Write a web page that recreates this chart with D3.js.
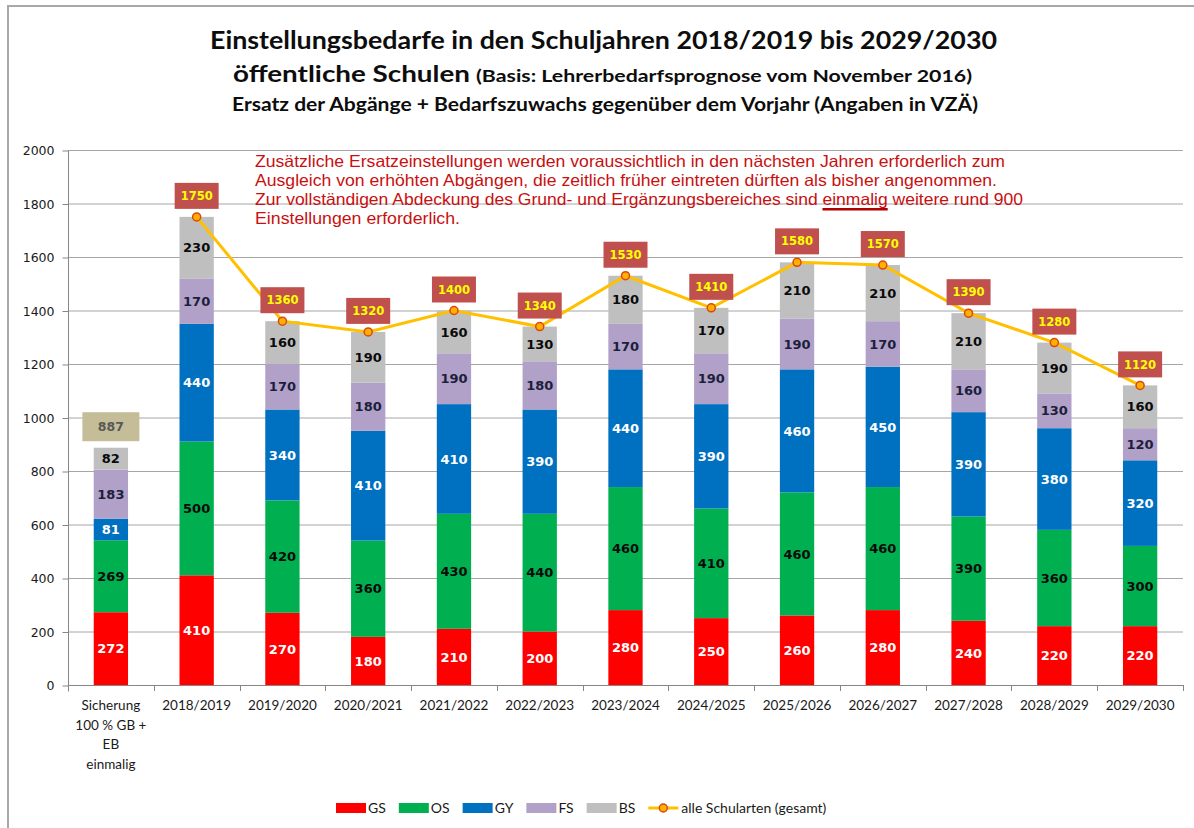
<!DOCTYPE html>
<html><head><meta charset="utf-8">
<script src="https://cdn.jsdelivr.net/npm/d3@7"></script>
<style>body{margin:0;background:#fff} svg{display:block}</style>
</head><body>
<svg id="c" width="1194" height="828"></svg>
<script>
const categories = ["Sicherung\n100 % GB +\nEB\neinmalig","2018/2019","2019/2020","2020/2021","2021/2022","2022/2023","2023/2024","2024/2025","2025/2026","2026/2027","2027/2028","2028/2029","2029/2030"];
const seriesNames = ["GS","OS","GY","FS","BS"];
const GS = [272,410,270,180,210,200,280,250,260,280,240,220,220];
const OS = [269,500,420,360,430,440,460,410,460,460,390,360,300];
const GY = [81,440,340,410,410,390,440,390,460,450,390,380,320];
const FS = [183,170,170,180,190,180,170,190,190,170,160,130,120];
const BS = [82,230,160,190,160,130,180,170,210,210,210,190,160];
const totals = [887,1750,1360,1320,1400,1340,1530,1410,1580,1570,1390,1280,1120];
const lineName = "alle Schularten (gesamt)";
const yTicks = [0,200,400,600,800,1000,1200,1400,1600,1800,2000];
const titleLine1 = "Einstellungsbedarfe in den Schuljahren 2018/2019 bis 2029/2030";
const titleLine2a = "öffentliche Schulen";
const titleLine2b = "(Basis: Lehrerbedarfsprognose vom November 2016)";
const titleLine3 = "Ersatz der Abgänge + Bedarfszuwachs gegenüber dem Vorjahr (Angaben in VZÄ)";
const noteLines = [
  "Zusätzliche Ersatzeinstellungen werden voraussichtlich in den nächsten Jahren erforderlich zum",
  "Ausgleich von erhöhten Abgängen, die zeitlich früher eintreten dürften als bisher angenommen.",
  "Zur vollständigen Abdeckung des Grund- und Ergänzungsbereiches sind einmalig weitere rund 900",
  "Einstellungen erforderlich."
];
const noteWidths = [750, 742, 768, 205];
const noteUnderlined = "einmalig";

const seriesData = {GS, OS, GY, FS, BS};
const colors = {GS:"#FF0000", OS:"#00B050", GY:"#0070C0", FS:"#B1A0C7", BS:"#BFBFBF"};
const labelColors = {GS:"#FFFFFF", OS:"#0a0a0a", GY:"#FFFFFF", FS:"#1c1f3c", BS:"#0a0a0a"};

const svg = d3.select("#c");

// outer frame
svg.append("path").attr("d","M8,830 V6 H1196").attr("fill","none")
  .attr("stroke","#a8a8a8").attr("stroke-width",2);

// Titles
const tf = "Lato, 'Open Sans', sans-serif";
svg.append("text").attr("x",210).attr("y",49).attr("font-family",tf).attr("font-weight","bold")
  .attr("font-size",25).attr("fill","#0d0d0d").attr("textLength",787).attr("lengthAdjust","spacingAndGlyphs").text(titleLine1);
svg.append("text").attr("x",233).attr("y",82).attr("font-family",tf).attr("font-weight","bold")
  .attr("font-size",23).attr("fill","#0d0d0d").attr("textLength",237).attr("lengthAdjust","spacingAndGlyphs").text(titleLine2a);
svg.append("text").attr("x",476).attr("y",82).attr("font-family",tf).attr("font-weight","bold")
  .attr("font-size",17).attr("fill","#0d0d0d").attr("textLength",496).attr("lengthAdjust","spacingAndGlyphs").text(titleLine2b);
svg.append("text").attr("x",232).attr("y",111).attr("font-family",tf).attr("font-weight","bold")
  .attr("font-size",18).attr("fill","#0d0d0d").attr("textLength",746).attr("lengthAdjust","spacingAndGlyphs").text(titleLine3);

// Scales
const x = d3.scaleBand().domain(categories).range([68,1183]).paddingInner(0.6).paddingOuter(0.3);
const y = d3.scaleLinear().domain([0,2000]).range([685,150]);
const step = x.step();

// gridlines
svg.append("g").selectAll("line").data(yTicks.filter(d=>d>0)).join("line")
  .attr("x1",68).attr("x2",1183).attr("y1",d=>y(d)+0.5).attr("y2",d=>y(d)+0.5)
  .attr("stroke","#a6a6a6").attr("stroke-width",1);

// y axis
const yAxis = svg.append("g").attr("transform","translate(68.5,0.5)")
  .call(d3.axisLeft(y).tickValues(yTicks).tickSize(6).tickPadding(8).tickFormat(d3.format("d")));
yAxis.select(".domain").attr("stroke","#868686").attr("d","M0,"+(y(2000))+"V"+(y(0)+6));
yAxis.selectAll(".tick line").attr("stroke","#868686");
yAxis.selectAll(".tick text").attr("font-family","'DejaVu Sans', Verdana, sans-serif")
  .attr("font-size",12.5).attr("fill","#1a1a1a");

// x axis line + boundary ticks
svg.append("line").attr("x1",68).attr("x2",1183).attr("y1",y(0)+0.5).attr("y2",y(0)+0.5)
  .attr("stroke","#868686");
svg.append("g").selectAll("line").data(d3.range(categories.length+1)).join("line")
  .attr("x1",i=>Math.round(68+i*step)+0.5).attr("x2",i=>Math.round(68+i*step)+0.5)
  .attr("y1",y(0)).attr("y2",y(0)+6).attr("stroke","#868686");

// x labels
const xl = svg.append("g").selectAll("text").data(categories).join("text")
  .attr("text-anchor","middle").attr("font-family",tf).attr("font-size",13.5).attr("fill","#1a1a1a")
  .attr("transform",d=>`translate(${x(d)+x.bandwidth()/2},710)`);
xl.each(function(d){
  const lines = d.split("\n");
  d3.select(this).selectAll("tspan").data(lines).join("tspan")
    .attr("x",0).attr("dy",(l,i)=>i===0?0:19.5).text(l=>l);
});

// stacked bars
const rows = categories.map((c,i)=>{const r={cat:c}; seriesNames.forEach(s=>r[s]=seriesData[s][i]); return r;});
const stacked = d3.stack().keys(seriesNames)(rows);
const gBars = svg.append("g");
stacked.forEach(layer=>{
  const key = layer.key;
  gBars.append("g").attr("fill",colors[key]).selectAll("rect").data(layer).join("rect")
    .attr("x",d=>x(d.data.cat)).attr("width",x.bandwidth())
    .attr("y",d=>y(d[1])).attr("height",d=>y(d[0])-y(d[1]));
});
stacked.forEach(layer=>{
  const key = layer.key;
  gBars.append("g").selectAll("text").data(layer).join("text")
    .attr("x",d=>x(d.data.cat)+x.bandwidth()/2).attr("y",d=>(y(d[0])+y(d[1]))/2)
    .attr("dy","0.36em").attr("text-anchor","middle")
    .attr("font-family","'DejaVu Sans', Verdana, sans-serif").attr("font-weight","bold")
    .attr("font-size",13).attr("fill",labelColors[key])
    .text(d=>d.data[key]);
});

// annotation
const nf = "'Liberation Sans', Arial, sans-serif";
const notes = svg.append("g");
noteLines.forEach((t,i)=>{
  const by = 167+i*19;
  const tx = notes.append("text").attr("x",255).attr("y",by).attr("font-family",nf)
    .attr("font-size",16.5).attr("fill","#C81010")
    .attr("textLength",noteWidths[i]).attr("lengthAdjust","spacingAndGlyphs").text(t);
  const idx = t.indexOf(noteUnderlined);
  if(idx>=0){
    const n = tx.node();
    const s = n.getStartPositionOfChar(idx).x;
    const e = n.getEndPositionOfChar(idx+noteUnderlined.length-1).x;
    notes.append("rect").attr("x",s).attr("y",by+3).attr("width",e-s).attr("height",2.5).attr("fill","#B00000");
  }
});

// total line
const lineIdx = d3.range(1,categories.length);
const cx = i=>x(categories[i])+x.bandwidth()/2;
svg.append("path").datum(lineIdx)
  .attr("d",d3.line().x(i=>cx(i)).y(i=>y(totals[i])))
  .attr("fill","none").attr("stroke","#FFC000").attr("stroke-width",3);
svg.append("g").selectAll("circle").data(lineIdx).join("circle")
  .attr("cx",cx).attr("cy",i=>y(totals[i])).attr("r",4)
  .attr("fill","#FFB000").attr("stroke","#D9480F").attr("stroke-width",1.5);

// total labels
const tl = svg.append("g").selectAll("g").data(lineIdx).join("g")
  .attr("transform",i=>`translate(${cx(i)},${y(totals[i])-21})`);
tl.append("rect").attr("x",-22).attr("y",-13).attr("width",44).attr("height",26).attr("fill","#C0504D");
tl.append("text").attr("text-anchor","middle").attr("dy","0.36em")
  .attr("font-family","'DejaVu Sans', Verdana, sans-serif").attr("font-weight","bold")
  .attr("font-size",11.5).attr("fill","#FFFF00").text(i=>totals[i]);

// first bar total
const g0 = svg.append("g").attr("transform",`translate(${cx(0)},${y(totals[0])-21})`);
g0.append("rect").attr("x",-28.5).attr("y",-14.5).attr("width",57).attr("height",29).attr("fill","#C4BD97");
g0.append("text").attr("text-anchor","middle").attr("dy","0.36em")
  .attr("font-family","'DejaVu Sans', Verdana, sans-serif").attr("font-weight","bold")
  .attr("font-size",12.5).attr("fill","#595959").text(totals[0]);

// legend
const lg = svg.append("g");
let cur = 336;
const ly = 803;
seriesNames.forEach(s=>{
  lg.append("rect").attr("x",cur).attr("y",ly).attr("width",30).attr("height",10).attr("fill",colors[s]);
  const t = lg.append("text").attr("x",cur+32).attr("y",ly+10).attr("font-family",tf).attr("font-size",14)
    .attr("fill","#1a1a1a").text(s);
  cur += 32 + t.node().getComputedTextLength() + 13;
});
lg.append("line").attr("x1",cur).attr("x2",cur+30).attr("y1",ly+5).attr("y2",ly+5)
  .attr("stroke","#FFC000").attr("stroke-width",3);
lg.append("circle").attr("cx",cur+15).attr("cy",ly+5).attr("r",4)
  .attr("fill","#FFB000").attr("stroke","#D9480F").attr("stroke-width",1.5);
lg.append("text").attr("x",cur+33).attr("y",ly+10).attr("font-family",tf).attr("font-size",14)
  .attr("fill","#1a1a1a").text(lineName);
</script>
</body></html>
